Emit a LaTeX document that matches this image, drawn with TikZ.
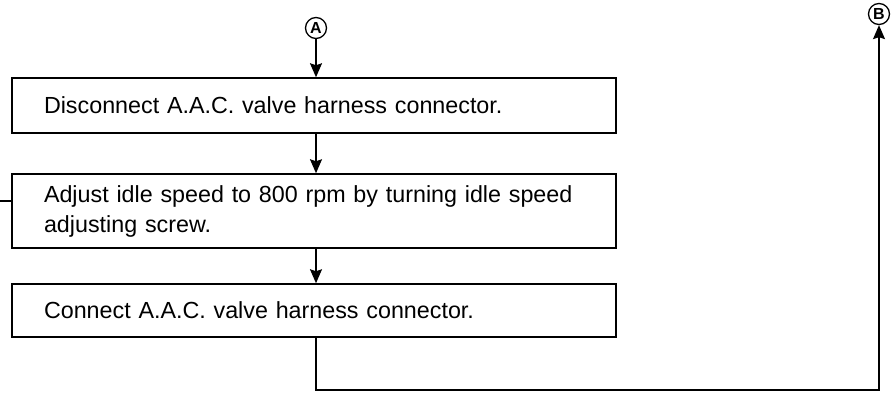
\documentclass[tikz,border=0pt]{standalone}
\usepackage{fontspec}
\setmainfont{Liberation Sans}
\usetikzlibrary{arrows.meta}

\begin{document}
\begin{tikzpicture}[
    x=1pt, y=-1pt,
    % estilos
    stepbox/.style={rectangle, draw=black, line width=1.5pt, minimum width=604pt,
        text width=540pt, inner xsep=32pt, align=left,
        font=\fontsize{23.3}{30}\selectfont},
    conn/.style={circle, draw=black, line width=1.3pt, inner sep=0pt, minimum size=21pt,
        font=\bfseries\fontsize{16}{16}\selectfont},
    line/.style={-, line width=1.5pt, draw=black},
    arrow/.style={-{Stealth[length=14pt,width=12pt,inset=2pt]}, line width=1.5pt, draw=black}
]
\useasboundingbox (0,0) rectangle (892,394);

% --- CONECTORES ---
\node[conn] (A) at (316,28) {A};
\node[conn] (B) at (879,14) {B};

% --- PASOS ---
\node[stepbox, minimum height=55pt] (disc) at (314,105.5)
    {Disconnect A.A.C. valve harness connector.};
\node[stepbox, minimum height=74pt] (adj) at (314,211)
    {Adjust idle speed to 800 rpm by turning idle speed\\adjusting screw.};
\node[stepbox, minimum height=53pt] (conn3) at (314,310.5)
    {Connect A.A.C. valve harness connector.};

% --- FLECHAS ---
\draw[arrow] (A) -- (A |- disc.north);
\draw[arrow] (disc.south -| A) -- (adj.north -| A);
\draw[arrow] (adj.south -| A) -- (conn3.north -| A);

\coordinate (inleft) at (0,201);
\draw[line] (inleft) -- (inleft -| adj.west);

\coordinate (corner1) at (316,390);
\coordinate (corner2) at (879,390);
\draw[arrow] (conn3.south -| A) -- (corner1) -- (corner2) -- (B);

\end{tikzpicture}
\end{document}
